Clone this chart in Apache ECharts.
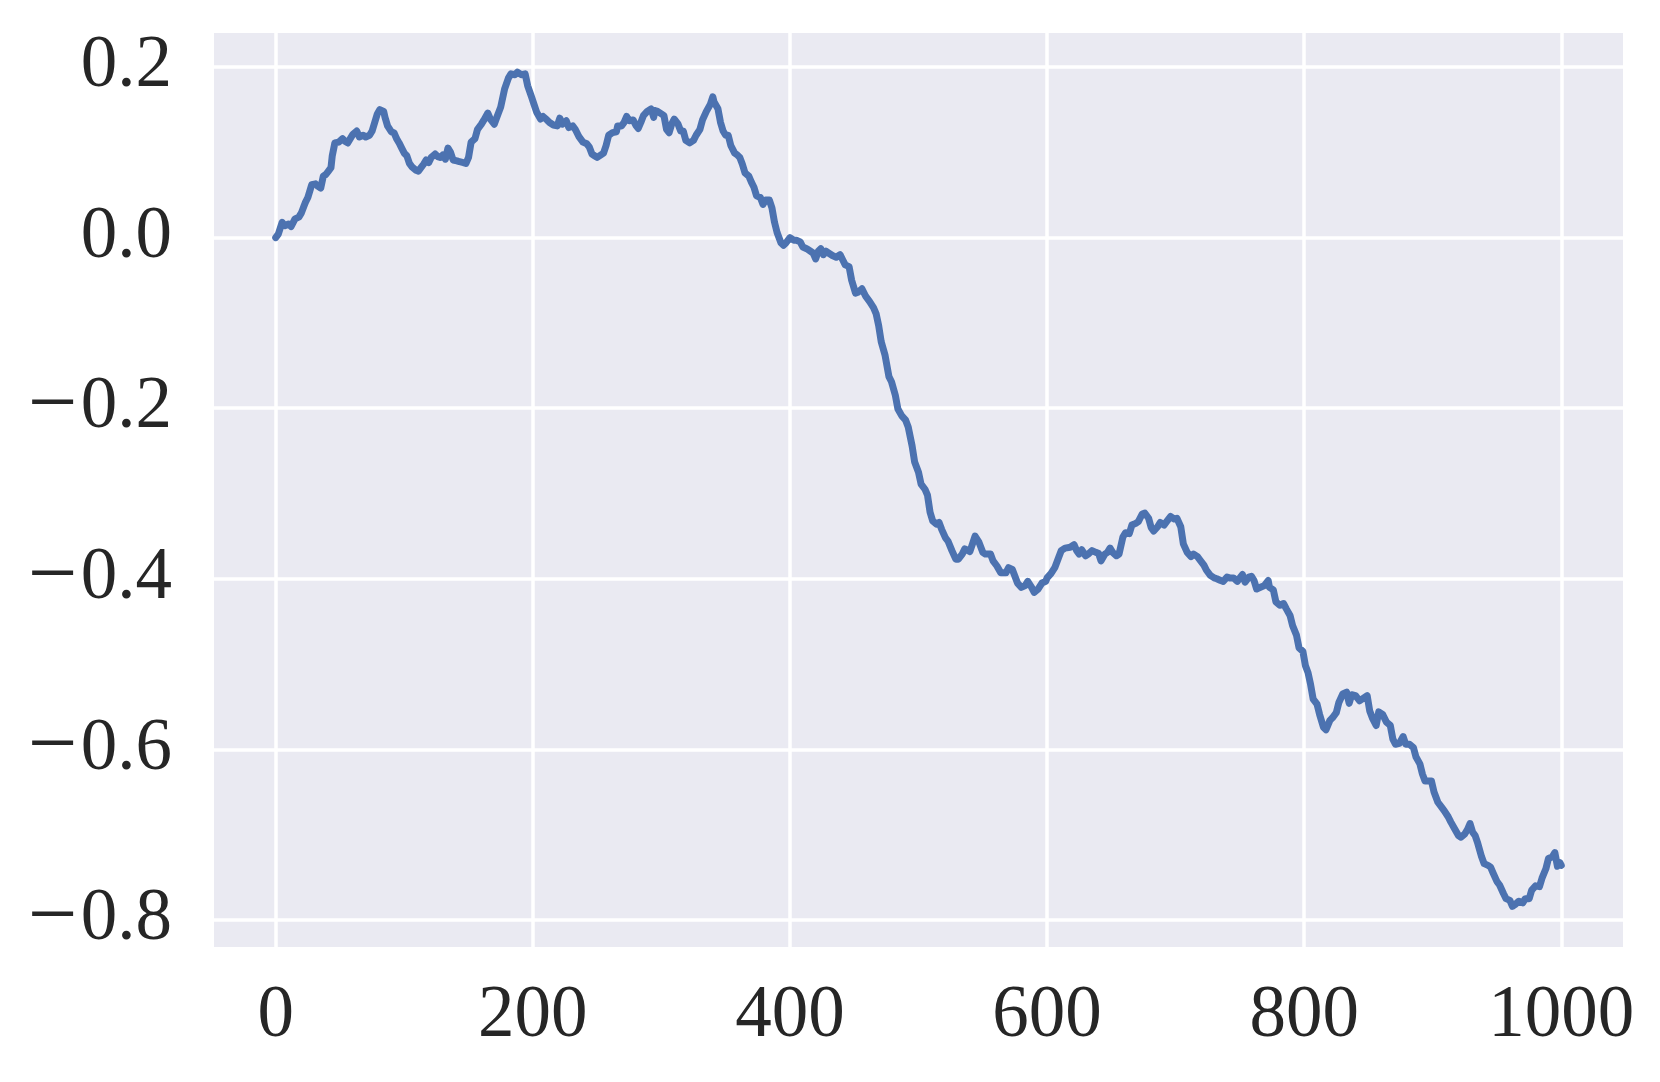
<!DOCTYPE html>
<html>
<head>
<meta charset="utf-8">
<script src="https://cdn.jsdelivr.net/npm/echarts@6/dist/echarts.min.js"></script>
<style>
html,body{margin:0;padding:0;background:#fff;}
#chart{width:1660px;height:1082px;}
</style>
</head>
<body>
<div id="chart"></div>
<script>
const steps = [0,2,5,7,10,12,15,18,20,22,23,25,27,28,31,33,35,37,39,41,43,44,46,49,52,54,56,58,60,63,65,68,70,73,75,77,79,81,84,85,87,90,92,94,96,98,100,102,104,106,109,111,113,115,117,119,121,124,126,128,130,132,134,136,138,141,143,146,148,150,152,155,157,160,162,165,167,170,172,175,178,181,183,186,188,191,194,196,199,
201,203,206,208,211,213,216,219,221,223,226,228,231,233,236,239,242,244,246,248,250,253,255,257,259,262,265,266,269,271,273,275,278,280,282,284,286,289,292,294,295,297,300,302,304,306,308,310,313,315,317,319,322,325,327,330,332,335,338,340,341,344,346,348,350,352,354,357,359,361,363,365,368,370,372,374,377,379,381,384,386,388,390,393,395,397,400,
403,405,408,410,413,416,418,420,422,424,426,428,430,433,436,439,441,443,446,448,451,453,456,459,462,465,467,469,471,474,477,479,482,484,487,490,492,495,497,500,502,505,507,509,511,514,516,518,521,523,526,529,531,534,536,540,542,544,545,547,550,552,556,558,561,564,568,570,573,575,577,580,583,585,588,590,593,596,599,
600,603,606,609,611,614,618,621,623,625,627,630,632,635,638,640,642,645,647,649,651,654,656,659,661,664,666,669,671,674,676,679,681,683,686,688,691,693,696,699,701,704,706,709,712,714,717,719,722,724,727,730,732,735,737,740,742,745,748,750,752,754,757,759,761,763,766,769,772,773,776,778,781,784,786,789,
791,794,796,799,801,803,805,807,810,812,815,817,820,822,825,827,830,833,835,837,840,843,845,849,851,853,856,858,861,864,867,869,871,874,877,879,882,885,887,890,892,894,896,899,901,904,907,909,912,914,917,920,922,925,927,929,931,933,935,938,940,943,945,947,950,952,955,957,960,962,964,967,970,972,975,977,980,983,985,988,990,993,995,997,999,1000];
const positions = [0.000,0.004,0.018,0.014,0.016,0.013,0.022,0.024,0.029,0.037,0.041,0.047,0.057,0.062,0.063,0.060,0.058,0.072,0.074,0.078,0.082,0.096,0.111,0.112,0.116,0.113,0.111,0.116,0.121,0.125,0.118,0.120,0.118,0.120,0.125,0.135,0.145,0.150,0.148,0.141,0.131,0.124,0.123,0.116,0.111,0.105,0.099,0.096,0.087,0.083,0.079,0.078,0.082,0.086,0.091,0.088,0.094,0.098,0.095,0.094,0.097,0.092,0.105,0.100,0.091,0.090,0.089,0.088,0.087,0.094,0.112,0.116,0.127,0.133,0.138,0.146,0.139,0.133,0.141,0.153,0.174,0.187,0.192,0.191,0.194,0.191,0.192,0.178,0.165,
0.156,0.147,0.139,0.142,0.138,0.135,0.132,0.131,0.140,0.133,0.137,0.129,0.131,0.127,0.118,0.112,0.110,0.106,0.098,0.096,0.094,0.097,0.099,0.108,0.120,0.123,0.124,0.131,0.131,0.135,0.142,0.137,0.138,0.132,0.128,0.135,0.143,0.148,0.151,0.141,0.149,0.148,0.145,0.143,0.127,0.123,0.133,0.139,0.133,0.125,0.125,0.114,0.111,0.114,0.120,0.127,0.138,0.148,0.156,0.165,0.159,0.151,0.135,0.125,0.120,0.120,0.108,0.099,0.097,0.094,0.086,0.076,0.072,0.065,0.059,0.049,0.047,0.039,0.044,0.044,0.035,0.018,0.006,-0.006,-0.009,-0.006,0.000,
-0.003,-0.003,-0.005,-0.011,-0.013,-0.016,-0.018,-0.025,-0.016,-0.013,-0.020,-0.016,-0.018,-0.021,-0.023,-0.020,-0.026,-0.032,-0.034,-0.050,-0.065,-0.064,-0.060,-0.069,-0.075,-0.082,-0.089,-0.103,-0.122,-0.138,-0.163,-0.169,-0.185,-0.201,-0.209,-0.214,-0.222,-0.244,-0.263,-0.275,-0.289,-0.295,-0.302,-0.322,-0.332,-0.336,-0.334,-0.342,-0.352,-0.356,-0.367,-0.377,-0.377,-0.371,-0.365,-0.368,-0.359,-0.350,-0.352,-0.357,-0.369,-0.371,-0.371,-0.379,-0.385,-0.393,-0.393,-0.387,-0.389,-0.397,-0.405,-0.410,-0.408,-0.403,-0.410,-0.416,-0.412,-0.405,-0.403,
-0.399,-0.394,-0.387,-0.375,-0.367,-0.364,-0.363,-0.360,-0.367,-0.371,-0.366,-0.373,-0.371,-0.367,-0.369,-0.370,-0.379,-0.371,-0.369,-0.364,-0.369,-0.373,-0.371,-0.351,-0.346,-0.347,-0.337,-0.335,-0.333,-0.324,-0.323,-0.329,-0.340,-0.344,-0.339,-0.334,-0.337,-0.333,-0.327,-0.330,-0.329,-0.339,-0.359,-0.369,-0.374,-0.371,-0.374,-0.378,-0.384,-0.390,-0.396,-0.399,-0.400,-0.402,-0.403,-0.398,-0.399,-0.399,-0.403,-0.399,-0.395,-0.404,-0.398,-0.397,-0.402,-0.412,-0.410,-0.408,-0.402,-0.410,-0.413,-0.427,-0.431,-0.429,-0.435,-0.443,
-0.455,-0.466,-0.481,-0.485,-0.502,-0.510,-0.524,-0.541,-0.547,-0.559,-0.574,-0.577,-0.566,-0.563,-0.557,-0.545,-0.535,-0.533,-0.546,-0.536,-0.537,-0.543,-0.541,-0.537,-0.555,-0.563,-0.572,-0.556,-0.559,-0.568,-0.572,-0.588,-0.594,-0.593,-0.585,-0.594,-0.594,-0.598,-0.609,-0.617,-0.629,-0.637,-0.637,-0.637,-0.650,-0.662,-0.668,-0.672,-0.679,-0.685,-0.693,-0.701,-0.703,-0.699,-0.694,-0.687,-0.697,-0.701,-0.710,-0.726,-0.734,-0.736,-0.738,-0.745,-0.755,-0.759,-0.769,-0.775,-0.777,-0.784,-0.782,-0.778,-0.780,-0.775,-0.775,-0.765,-0.760,-0.761,-0.751,-0.740,-0.728,-0.726,-0.721,-0.737,-0.733,-0.736];
const xTicks = [0,200,400,600,800,1000];
const yTicks = [-0.8,-0.6,-0.4,-0.2,0.0,0.2];

const seriesData = steps.map((s, i) => [s, positions[i]]);
const font = '"Liberation Serif", "DejaVu Serif", serif';
const textColor = '#262626';

const chart = echarts.init(document.getElementById('chart'), null, {renderer: 'canvas'});
chart.setOption({
  animation: false,
  backgroundColor: '#ffffff',
  grid: {left: 214, right: 37, top: 33, bottom: 135, show: true, backgroundColor: '#EAEAF2', borderWidth: 0},
  xAxis: {
    type: 'value', min: -48, max: 1048,
    axisLine: {show: false},
    axisTick: {show: false, customValues: xTicks},
    axisLabel: {customValues: xTicks, margin: 33, color: textColor, fontSize: 73, fontFamily: font,
      formatter: v => String(Math.round(v))},
    splitLine: {show: true, lineStyle: {color: '#ffffff', width: 3.5}}
  },
  yAxis: {
    type: 'value', min: -0.8317, max: 0.2399,
    axisLine: {show: false},
    axisTick: {show: false, customValues: yTicks},
    axisLabel: {customValues: yTicks, margin: 42, color: textColor, fontSize: 73, fontFamily: font,
      formatter: v => (v < -1e-9 ? '{m|\u2212}' : '') + '{n|' + Math.abs(v).toFixed(1) + '}',
      rich: {
        m: {fontFamily: font, fontSize: 88, color: textColor, padding: [0, 3, 0, 0]},
        n: {fontFamily: font, fontSize: 73, color: textColor}
      }},
    splitLine: {show: true, lineStyle: {color: '#ffffff', width: 3.5}}
  },
  series: [{
    type: 'line', data: seriesData, showSymbol: false, symbol: 'none',
    lineStyle: {color: '#4C72B0', width: 7, join: 'round', cap: 'round'},
    z: 3
  }]
});
</script>
</body>
</html>
